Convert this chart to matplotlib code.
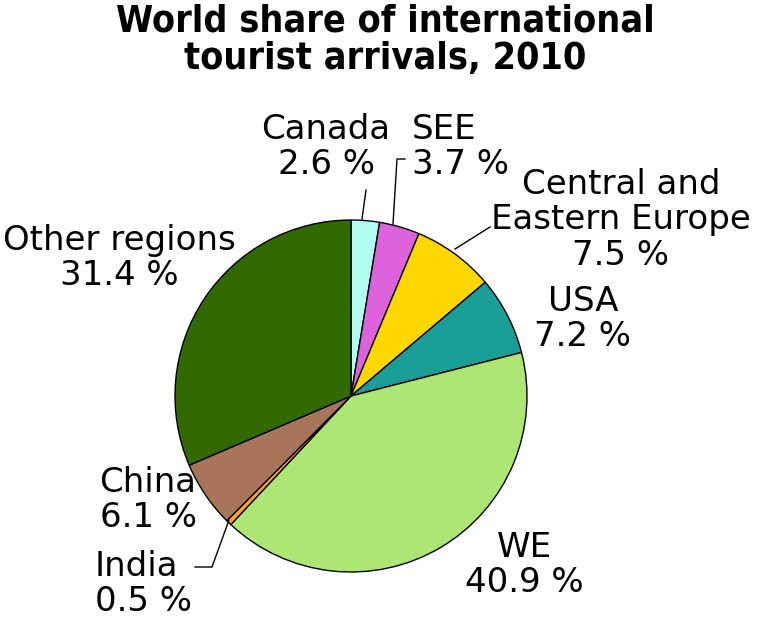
import matplotlib.pyplot as plt

# data, clockwise from 12 o'clock
regions = ["Canada", "SEE", "Central and\nEastern Europe", "USA", "WE",
           "India", "China", "Other regions"]
shares = [2.6, 3.7, 7.5, 7.2, 40.9, 0.5, 6.1, 31.4]
colors = ["#b3fdf0", "#dd63dd", "#ffd700", "#1a9e98", "#ade674",
          "#ffa31a", "#a8745a", "#336a00"]

# label centres in pixels (x, y from top) and text alignment
label_pos = [(326, 147, "center"), (412, 147, "left"), (621, 220, "center"),
             (583, 319, "center"), (524, 565, "center"), (95, 584, "left"),
             (148, 500, "center"), (119, 258, "center")]
# leader lines, pixel coords
leaders = [[(366, 190), (362, 219)],
           [(405, 159), (397, 159), (393, 224)],
           [(490, 227), (455, 249)],
           None, None,
           [(195, 567), (212, 567), (229, 520)],
           None, None]

W, H = 768, 618
cx, cy, r = 351, 396, 176

fig = plt.figure(figsize=(W / 100, H / 100), dpi=100)
ax = fig.add_axes([(cx - r) / W, (H - cy - r) / H, 2 * r / W, 2 * r / H])
ax.pie(shares, colors=colors, startangle=90, counterclock=False, radius=1,
       wedgeprops=dict(edgecolor="black", linewidth=1))
ax.set_xlim(-1, 1)
ax.set_ylim(-1, 1)
ax.set_aspect("equal")
ax.axis("off")


def to_data(px, py):
    return (px - cx) / r, (cy - py) / r


for name, val, (px, py, ha), ld in zip(regions, shares, label_pos, leaders):
    x, y = to_data(px, py)
    ax.text(x, y, f"{name}\n{val} %", ha=ha, va="center", fontsize=24.5,
            linespacing=1.08, clip_on=False)
    if ld:
        pts = [to_data(*p) for p in ld]
        ax.plot([p[0] for p in pts], [p[1] for p in pts], color="black",
                linewidth=1, clip_on=False)

fig.text(385 / W, 1 - 40 / H, "World share of international\ntourist arrivals, 2010",
         ha="center", va="center", fontsize=27, fontweight="heavy",
         fontstretch="condensed", linespacing=1.05)

fig.savefig("out.png", dpi=100)
